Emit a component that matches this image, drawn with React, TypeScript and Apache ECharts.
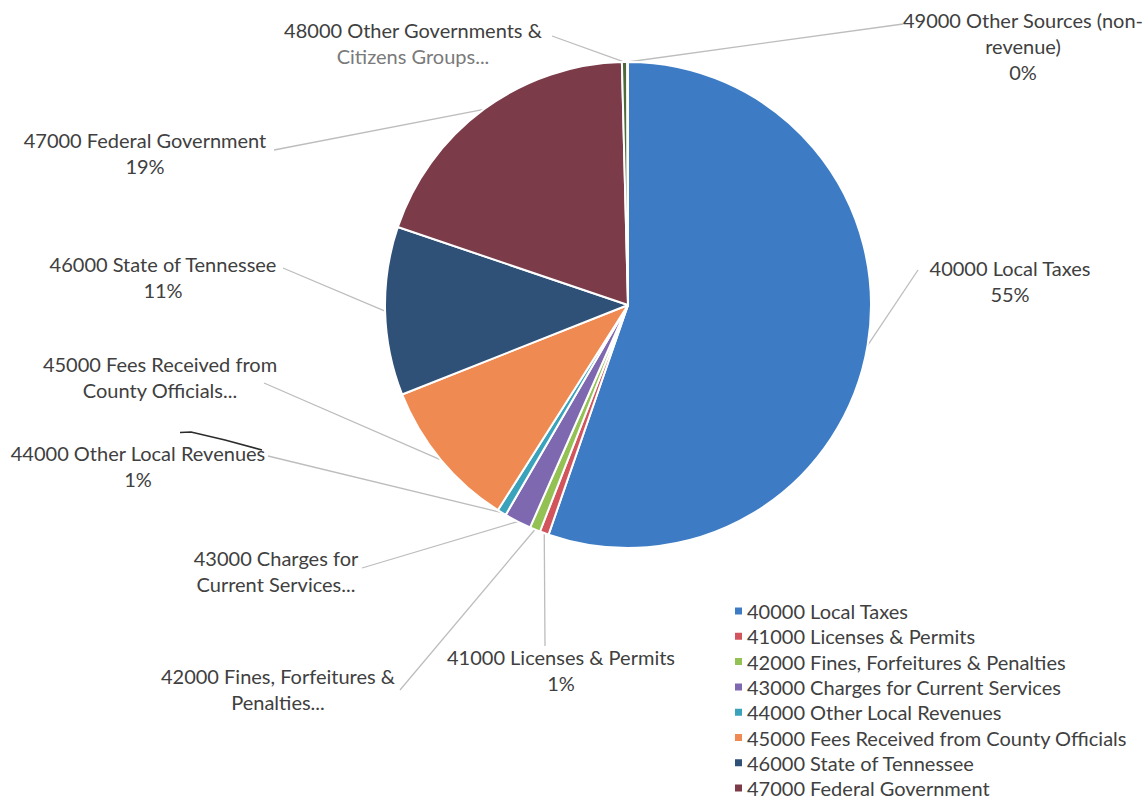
import React, { useEffect, useRef } from "react";
import * as echarts from "echarts";

const CATEGORIES = [
  "40000 Local Taxes",
  "41000 Licenses & Permits",
  "42000 Fines, Forfeitures & Penalties",
  "43000 Charges for Current Services",
  "44000 Other Local Revenues",
  "45000 Fees Received from County Officials",
  "46000 State of Tennessee",
  "47000 Federal Government",
  "48000 Other Governments & Citizens Groups",
  "49000 Other Sources (non-revenue)",
];

// share of revenue, percent
const VALUES = [55.3, 0.6, 0.7, 1.8, 0.6, 10.0, 11.2, 19.4, 0.35, 0.05];

// legend entries that fit in the picture (the rest run off its bottom edge)
const LEGEND_ITEMS = CATEGORIES.slice(0, 8);

// label text as drawn (the truncated ones carry no percentage)
const LABEL_LINES: string[][] = [
  ["40000 Local Taxes"],
  ["41000 Licenses & Permits"],
  ["42000 Fines, Forfeitures &", "Penalties..."],
  ["43000 Charges for", "Current Services..."],
  ["44000 Other Local Revenues"],
  ["45000 Fees Received from", "County Officials..."],
  ["46000 State of Tennessee"],
  ["47000 Federal Government"],
  ["48000 Other Governments &", "{g|Citizens Groups...}"],
  ["49000 Other Sources (non-", "revenue)"],
];
const SHOW_PCT = [true, true, false, false, true, false, true, true, false, true];

const COLORS = [
  "#3d7cc4",
  "#d2555d",
  "#93c153",
  "#7e69b0",
  "#3aa2bb",
  "#ef8a52",
  "#2f5077",
  "#7b3b49",
  "#4f6a3a",
  "#4d3b62",
];

// label layout: [centre x, top y] and the end of each leader line
const LABEL_POS: [number, number][] = [
  [1010, 255],
  [561, 644],
  [278, 663],
  [276, 545],
  [138, 440],
  [160, 351],
  [163, 251],
  [145, 127],
  [413, 17],
  [1023, 7],
];
const LINE_END: [number, number][] = [
  [918, 270],
  [545, 646],
  [400, 690],
  [362, 568],
  [268, 456],
  [264, 383],
  [283, 268],
  [274, 150],
  [552, 36],
  [903, 24],
];

const FONT = "Lato, 'Open Sans', sans-serif";
const TEXT = "#404040";
const FS = 20;

export default function App() {
  const ref = useRef<HTMLDivElement>(null);
  useEffect(() => {
    document.body.style.margin = "0";
    const chart = echarts.init(ref.current!, null, { renderer: "svg" });
    const total = VALUES.reduce((a, b) => a + b, 0);
    chart.setOption({
      animation: false,
      backgroundColor: "#ffffff",
      color: COLORS,
      legend: {
        orient: "vertical",
        left: 728,
        top: 596,
        height: 600,
        icon: "rect",
        itemWidth: 9,
        itemHeight: 9,
        itemGap: 5.3,
        data: LEGEND_ITEMS,
        textStyle: {
          color: TEXT,
          fontFamily: FONT,
          fontSize: FS,
          lineHeight: 20,
          padding: [0, 0, 0, -1],
        },
      },
      graphic: [
        {
          type: "polyline",
          shape: {
            points: [
              [180, 432.5],
              [191, 432],
              [225, 440],
              [262, 450],
            ],
          },
          style: { stroke: "#2b2b2b", lineWidth: 1.6, fill: null },
          z: 100,
        },
      ],
      series: [
        {
          type: "pie",
          center: [628, 305],
          radius: 243,
          startAngle: 90,
          clockwise: true,
          avoidLabelOverlap: false,
          itemStyle: { borderColor: "#ffffff", borderWidth: 2 },
          label: {
            show: true,
            position: "outside",
            color: TEXT,
            fontFamily: FONT,
            fontSize: FS,
            lineHeight: 26,
            align: "center",
            rich: {
              g: { color: "#7a7a7a", fontFamily: FONT, fontSize: FS, lineHeight: 26 },
            },
            formatter: (p: any) => {
              const lines = LABEL_LINES[p.dataIndex].slice();
              if (SHOW_PCT[p.dataIndex]) {
                lines.push(Math.round((VALUES[p.dataIndex] / total) * 100) + "%");
              }
              return lines.join("\n");
            },
          },
          labelLine: {
            show: true,
            length: 10,
            length2: 10,
            lineStyle: { color: "#bdbdbd", width: 1.3 },
          },
          labelLayout: (params: any) => {
            const i = params.dataIndex;
            const start = params.labelLinePoints ? params.labelLinePoints[0] : LINE_END[i];
            return {
              x: LABEL_POS[i][0],
              y: LABEL_POS[i][1],
              align: "center",
              verticalAlign: "top",
              labelLinePoints: [start, LINE_END[i]],
            };
          },
          emphasis: { disabled: true },
          data: CATEGORIES.map((name, i) => ({ name, value: VALUES[i] })),
        },
      ],
    });
    return () => chart.dispose();
  }, []);
  return (
    <div
      ref={ref}
      style={{ position: "absolute", left: 0, top: 0, width: 1148, height: 802, background: "#fff" }}
    />
  );
}
